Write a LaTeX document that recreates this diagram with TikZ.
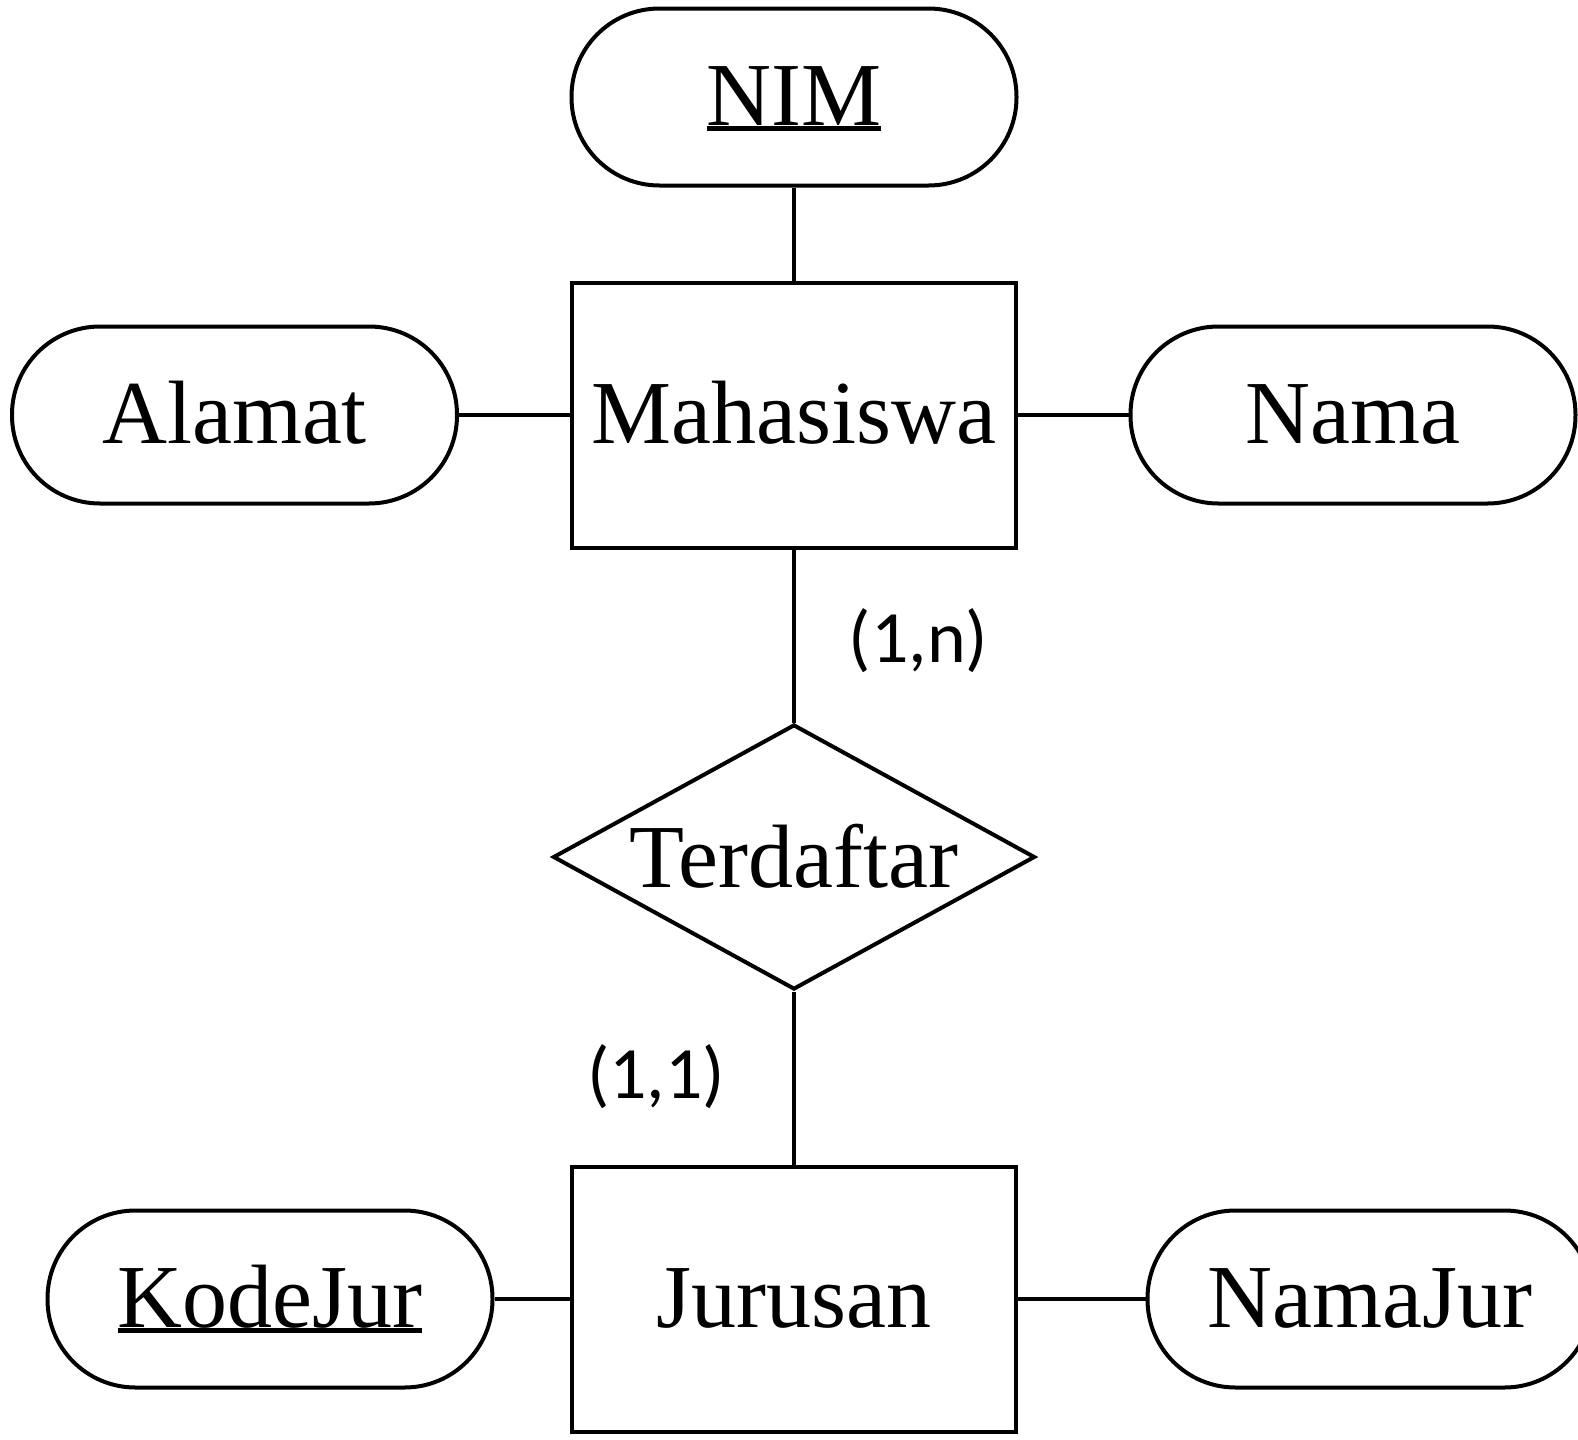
\documentclass[tikz,border=0pt]{standalone}
\usepackage{fontspec}
\setmainfont{Liberation Serif}
\newfontfamily\cardfamily{Carlito}
\usetikzlibrary{shapes.geometric}

\newcommand\erfont{\fontsize{25.6pt}{30pt}\selectfont}
\newcommand\cardfont{\cardfamily\fontsize{21pt}{25pt}\selectfont}
\newcommand\keyattr[1]{\setbox0\hbox{#1}\rlap{\rule[-0.055cm]{\wd0}{0.045cm}}\box0}

\begin{document}
\begin{tikzpicture}[line width=0.04cm,
    entity/.style={draw, rectangle, minimum width=4.44cm, minimum height=2.65cm,
        inner sep=0pt, text height=0.56cm, text depth=0pt, font=\erfont},
    attrib/.style={draw, rectangle, rounded corners=0.88cm, minimum width=4.45cm,
        minimum height=1.77cm, inner sep=0pt, text height=0.56cm, text depth=0pt,
        font=\erfont},
    relation/.style={draw, diamond, aspect=1.82, minimum width=4.82cm,
        minimum height=2.65cm, inner sep=0pt, text height=0.6cm, text depth=0pt,
        font=\erfont},
    card/.style={font=\cardfont, inner sep=0pt, anchor=base}]
    \useasboundingbox (0,0) rectangle (15.78,-14.40);% page size
    % Mahasiswa and its attributes
    \node[entity] (mhs) at (7.94,-4.15) {Mahasiswa};
    \node[attrib] (nim) at (7.94,-0.97) {\keyattr{NIM}};% key attribute
    \node[attrib] (alamat) at (2.345,-4.15) {Alamat};
    \node[attrib] (nama) at (13.53,-4.15) {Nama};
    % the relationship
    \node[relation] (daftar) at (7.94,-8.57) {Terdaftar};
    % Jurusan and its attributes
    \node[entity] (jur) at (7.94,-12.99) {Jurusan};
    \node[attrib] (kode) at (2.70,-12.99) {\keyattr{KodeJur}};% key attribute
    \node[attrib] (namajur) at (13.70,-12.99) {NamaJur};
    % connectors
    \draw (nim) -- (mhs);
    \draw (alamat) -- (mhs);
    \draw (mhs) -- (nama);
    \draw (mhs) -- (daftar);
    \draw (daftar) -- (jur);
    \draw (kode) -- (jur);
    \draw (jur) -- (namajur);
    % cardinalities
    \node[card] (cardn) at (9.185,-6.62) {(1,n)};
    \node[card] (card1) at (6.56,-10.98) {(1,1)};
\end{tikzpicture}
\end{document}
